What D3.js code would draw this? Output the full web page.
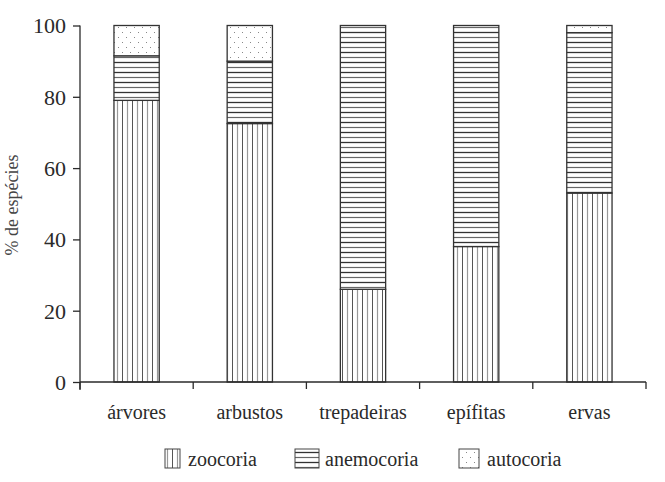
<!DOCTYPE html>
<html><head><meta charset="utf-8">
<script src="https://cdn.jsdelivr.net/npm/d3@7"></script>
<style>body{margin:0;background:#fff}svg{display:block}text{font-family:"Liberation Serif","Times New Roman",serif}</style>
</head><body><svg id="c" width="665" height="482"></svg>
<script>
const categories = ["árvores","arbustos","trepadeiras","epífitas","ervas"];
const zoocoria   = [79, 72.5, 26, 38, 53];
const anemocoria = [12.5, 17.5, 74, 62, 45];
const autocoria  = [8.5, 10, 0, 0, 2];
const seriesNames = ["zoocoria","anemocoria","autocoria"];
const yTicks = [0,20,40,60,80,100];

const svg = d3.select("#c");
const ink = "#2a2a2a";
const ff = '"Liberation Serif","Times New Roman",serif';

// patterns
const defs = svg.append("defs");
const pz = defs.append("pattern").attr("id","p0").attr("patternUnits","userSpaceOnUse")
  .attr("width",10).attr("height",10);
pz.append("rect").attr("width",10).attr("height",10).attr("fill","#fff");
pz.append("line").attr("x1",2.5).attr("x2",2.5).attr("y1",0).attr("y2",10).attr("stroke","#555").attr("stroke-width",1);
pz.append("line").attr("x1",7.5).attr("x2",7.5).attr("y1",0).attr("y2",10).attr("stroke","#999").attr("stroke-width",1.2);
const pa = defs.append("pattern").attr("id","p1").attr("patternUnits","userSpaceOnUse")
  .attr("width",10).attr("height",10);
pa.append("rect").attr("width",10).attr("height",10).attr("fill","#fff");
pa.append("line").attr("y1",2.5).attr("y2",2.5).attr("x1",0).attr("x2",10).attr("stroke","#333").attr("stroke-width",1.3);
pa.append("line").attr("y1",7.5).attr("y2",7.5).attr("x1",0).attr("x2",10).attr("stroke","#666").attr("stroke-width",1.2);
const pd = defs.append("pattern").attr("id","p2").attr("patternUnits","userSpaceOnUse")
  .attr("width",8).attr("height",10);
pd.append("rect").attr("width",8).attr("height",10).attr("fill","#fff");
pd.append("rect").attr("x",2).attr("y",2).attr("width",1).attr("height",1).attr("fill","#888");
pd.append("rect").attr("x",6).attr("y",7).attr("width",1).attr("height",1).attr("fill","#888");

const x = d3.scaleBand().domain(categories).range([80,646]).paddingInner(0.6).paddingOuter(0.3);
const y = d3.scaleLinear().domain([0,100]).range([382,25.5]);

const rows = categories.map((c,i)=>({cat:c, zoocoria:zoocoria[i], anemocoria:anemocoria[i], autocoria:autocoria[i]}));
const stack = d3.stack().keys(seriesNames)(rows);

stack.forEach((layer,k)=>{
  svg.append("g").selectAll("rect").data(layer).join("rect")
    .attr("x",d=>x(d.data.cat))
    .attr("width",x.bandwidth())
    .attr("y",d=>y(d[1]))
    .attr("height",d=>Math.max(0,y(d[0])-y(d[1])))
    .attr("fill",`url(#p${k})`)
    .attr("stroke",d=>(d[1]-d[0])>0?"#333":"none")
    .attr("stroke-width",1.3);
});

// y axis
const ya = svg.append("g").attr("transform","translate(80,0)")
  .call(d3.axisLeft(y).tickValues(yTicks).tickSize(7).tickPadding(7));
ya.attr("font-family",null).attr("font-size",null);
ya.select(".domain").attr("stroke",ink).attr("stroke-width",1.3).attr("d","M0,25.5V390");
ya.selectAll(".tick line").attr("stroke",ink).attr("stroke-width",1.3);
ya.selectAll(".tick text").style("font-family",ff).style("font-size","22px").attr("fill",ink).attr("dy","0.34em");

// x axis
const step = x.step();
const bounds = d3.range(categories.length+1).map(i=>80+i*step);
svg.append("line").attr("x1",80).attr("x2",646).attr("y1",382).attr("y2",382).attr("stroke",ink).attr("stroke-width",1.3);
svg.append("g").selectAll("line").data(bounds).join("line")
  .attr("x1",d=>d).attr("x2",d=>d).attr("y1",382).attr("y2",389).attr("stroke",ink).attr("stroke-width",1.3);
svg.append("g").selectAll("text").data(categories).join("text")
  .attr("x",d=>x(d)+x.bandwidth()/2).attr("y",419)
  .attr("text-anchor","middle").style("font-family",ff).style("font-size","20px").attr("fill",ink)
  .text(d=>d);

// y title
svg.append("text").attr("transform","translate(18,205) rotate(-90)")
  .attr("text-anchor","middle").style("font-family",ff).style("font-size","18px").attr("fill","#444")
  .text("% de espécies");

// legend
const legend = [
  {name:"zoocoria", sx:165, sw:15, tx:188},
  {name:"anemocoria", sx:295, sw:24, tx:325},
  {name:"autocoria", sx:459, sw:20, tx:487}
];
legend.forEach((l,k)=>{
  svg.append("rect").attr("x",l.sx).attr("y",449).attr("width",l.sw).attr("height",19)
    .attr("fill",`url(#p${k})`).attr("stroke","#444").attr("stroke-width",1);
  svg.append("text").attr("x",l.tx).attr("y",466).style("font-family",ff).style("font-size","20px").attr("fill",ink).text(l.name);
});
</script></body></html>
